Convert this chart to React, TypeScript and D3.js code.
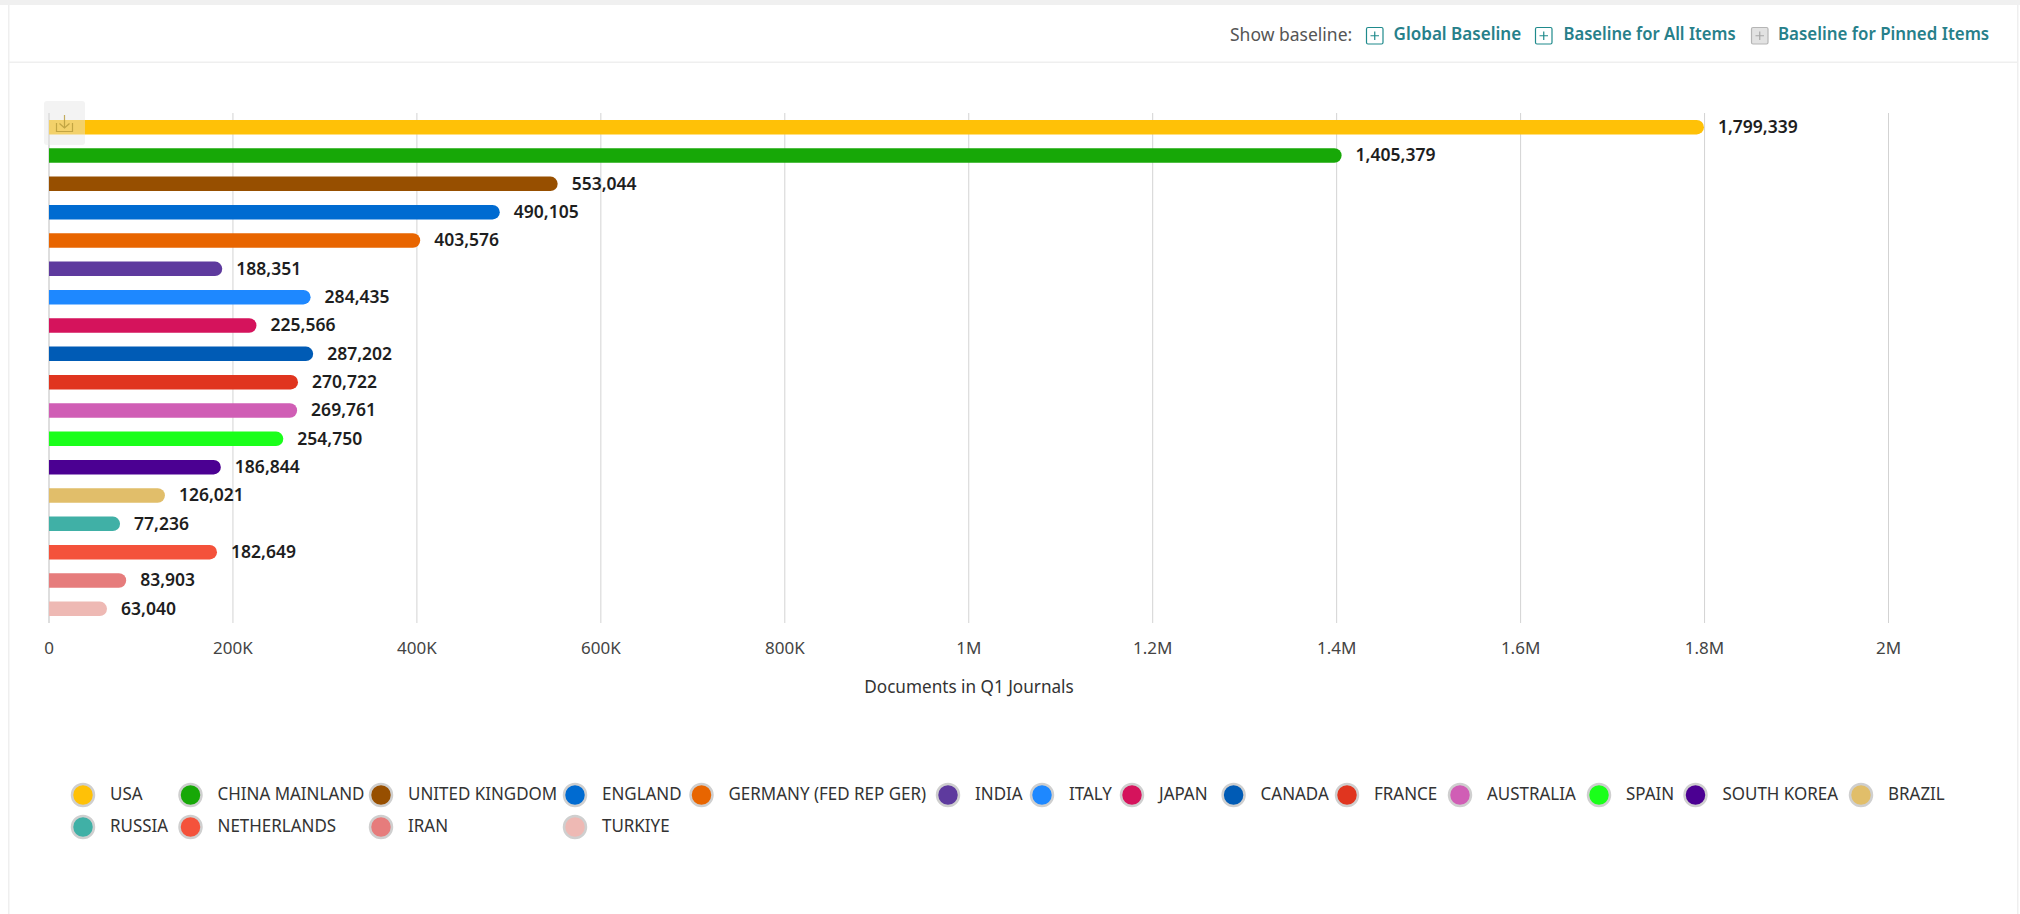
import React from "react";
import * as d3 from "d3";

const countries = ["USA","CHINA MAINLAND","UNITED KINGDOM","ENGLAND","GERMANY (FED REP GER)","INDIA","ITALY","JAPAN","CANADA","FRANCE","AUSTRALIA","SPAIN","SOUTH KOREA","BRAZIL","RUSSIA","NETHERLANDS","IRAN","TURKIYE"];
const documents = [1799339,1405379,553044,490105,403576,188351,284435,225566,287202,270722,269761,254750,186844,126021,77236,182649,83903,63040];
const colors = ["#ffc107","#17a807","#974f00","#006bd1","#e86500","#5e3a9e","#1e88ff","#d5135c","#005bb5","#e0351f","#d05eb5","#1aff1a","#4b0092","#e1be6a","#40b0a6","#f4523b","#e67c7c","#eeb9b4"];
const tickValues = [0,200000,400000,600000,800000,1000000,1200000,1400000,1600000,1800000,2000000];
const tickLabels = ["0","200K","400K","600K","800K","1M","1.2M","1.4M","1.6M","1.8M","2M"];
const legendRow1X = [83,190.5,381,575,701.5,948,1042,1132,1233.6,1347,1460,1599,1695.5,1861];
const legendRow2X = [83,190.5,381,575];
const baselineButtons = [
  { label: "Global Baseline", icon: 1366, text: 1393.5, on: true, squeeze: 0.975 },
  { label: "Baseline for All Items", icon: 1535, text: 1563.5, on: true, squeeze: 0.95 },
  { label: "Baseline for Pinned Items", icon: 1751, text: 1778, on: false, squeeze: 0.965 },
];

const FONT = "'Noto Sans', sans-serif";

function T({ x, y, children, size = 17.5, weight = 400, fill = "#333", anchor = "start", squeeze = 0.98 }: any) {
  return (
    <text transform={`translate(${x},${y - 1.2}) scale(${squeeze},1)`} fontFamily={FONT} fontSize={size} fontWeight={weight} fill={fill} textAnchor={anchor} dominantBaseline="central">
      {children}
    </text>
  );
}

export default function App() {
  const x = d3.scaleLinear().domain([0, 2000000]).range([49, 1888.5]);
  const y = d3.scaleBand<number>().domain(d3.range(countries.length)).range([113, 623]);
  const barH = 14.5;
  const barPath = (i: number) => {
    const x1 = x(documents[i]);
    const top = y(i)! + y.bandwidth() / 2 - barH / 2;
    const p = d3.path();
    p.moveTo(x(0), top);
    p.lineTo(x1 - barH / 2, top);
    p.arc(x1 - barH / 2, top + barH / 2, barH / 2, -Math.PI / 2, Math.PI / 2);
    p.lineTo(x(0), top + barH);
    p.closePath();
    return p.toString();
  };
  const legendX = [...legendRow1X, ...legendRow2X];
  return (
    <svg width={2020} height={914} style={{ position: "absolute", left: 0, top: 0, display: "block", background: "#fff" }}>
      <rect x={0} y={0} width={2020} height={5} fill="#f0f0f0" />
      <rect x={8} y={5} width={1.5} height={909} fill="#efefef" />
      <rect x={2017} y={5} width={1.5} height={909} fill="#efefef" />
      <rect x={8} y={61.5} width={2010} height={1.5} fill="#efefef" />

      <T x={1230} y={35} fill="#555" squeeze={1}>Show baseline:</T>
      {baselineButtons.map((b) => {
        const c = b.on ? "#1f8a8c" : "#b5b5b5";
        return (
          <g key={b.label}>
            <rect x={b.icon + 0.5} y={27.5} width={16.5} height={16.5} rx={1.5} fill={b.on ? "#fff" : "#e2e2e2"} stroke={c} strokeWidth={1.2} />
            <path d={`M${b.icon + 4.5} 35.75H${b.icon + 13}M${b.icon + 8.75} 31.5V40`} stroke={b.on ? c : "#a8a8a8"} strokeWidth={1.2} />
            <T x={b.text} y={35} weight={600} fill="#27808a" squeeze={b.squeeze}>{b.label}</T>
          </g>
        );
      })}

      {tickValues.map((t, i) => (
        <g key={t}>
          <line x1={x(t)} x2={x(t)} y1={113} y2={623} stroke={i === 0 ? "#bdbdbd" : "#d3d3d3"} strokeWidth={1} />
          <T x={x(t)} y={649} size={17} anchor="middle" fill="#444" squeeze={1}>{tickLabels[i]}</T>
        </g>
      ))}

      {countries.map((c, i) => (
        <g key={c}>
          <path d={barPath(i)} fill={colors[i]} />
          <T x={x(documents[i]) + 14} y={y(i)! + y.bandwidth() / 2} size={17.5} weight={600} fill="#1e1e1e" squeeze={1}>{d3.format(",")(documents[i])}</T>
        </g>
      ))}

      <rect x={44} y={101} width={41} height={44} rx={3} fill="#e4e4e4" fillOpacity={0.45} />
      <path d="M64.5 115V128M59.5 123.5L64.5 128L69.5 123.5M56.5 123V131.5H72.5V123" fill="none" stroke="#b59a3a" strokeOpacity={0.8} strokeWidth={1.2} />

      <T x={969} y={687} size={17.5} anchor="middle" fill="#333" squeeze={0.98}>Documents in Q1 Journals</T>

      {countries.map((c, i) => {
        const cy = i < legendRow1X.length ? 795 : 827;
        return (
          <g key={c}>
            <circle cx={legendX[i]} cy={cy} r={11} fill={colors[i]} stroke="#cfcfcf" strokeWidth={2.5} />
            <T x={legendX[i] + 27} y={cy} size={17.5} fill="#333" squeeze={0.97}>{c}</T>
          </g>
        );
      })}
    </svg>
  );
}
